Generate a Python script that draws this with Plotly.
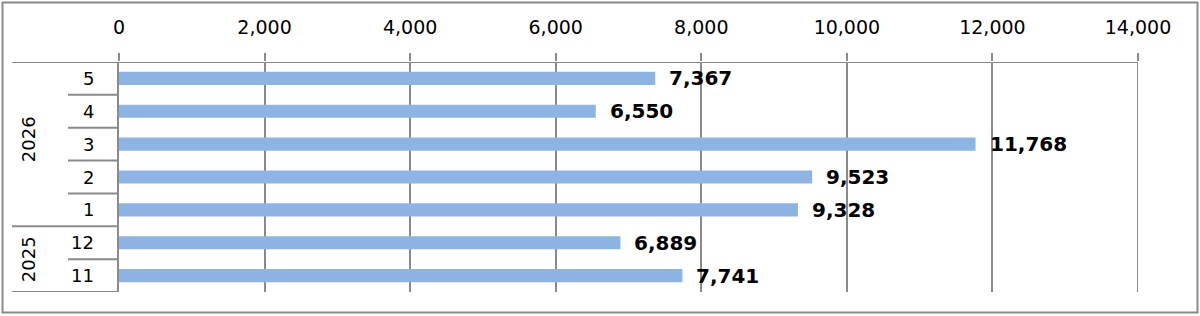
import plotly.graph_objects as go

years = ["2025", "2025", "2026", "2026", "2026", "2026", "2026"]
months = ["11", "12", "1", "2", "3", "4", "5"]
values = [7741, 6889, 9328, 9523, 11768, 6550, 7367]
x_ticks = [0, 2000, 4000, 6000, 8000, 10000, 12000, 14000]

cats = [f"{y}-{m}" for y, m in zip(years, months)]

W, H = 1200, 316
L, R, T, B = 119, 62, 62, 24
pw, ph = W - L - R, H - T - B
GREY = "#8a8a8a"
FONT = "DejaVu Sans"

def px_x(px):
    return (px - L) / pw

def px_y(py):
    return (H - B - py) / ph

fig = go.Figure()
fig.add_trace(go.Bar(
    x=values, y=cats, orientation="h",
    marker=dict(color="#8EB4E3", line=dict(width=0)),
    hoverinfo="skip",
))

annotations = []
# data labels
for c, v in zip(cats, values):
    annotations.append(dict(
        x=v, y=c, xref="x", yref="y", text=f"{v:,}", showarrow=False,
        xanchor="left", xshift=12,
        font=dict(family=FONT, size=20, color="black", weight="bold"),
    ))
# month labels
for c, m in zip(cats, months):
    annotations.append(dict(
        x=px_x(96), y=c, xref="paper", yref="y", text=m, showarrow=False,
        xanchor="right", font=dict(family=FONT, size=18, color="black"),
    ))
# year labels (rotated), centered over their group
shapes = []
groups = []
for i, y in enumerate(years):
    if groups and groups[-1][0] == y:
        groups[-1][2] = i
    else:
        groups.append([y, i, i])
for y, i0, i1 in groups:
    annotations.append(dict(
        x=px_x(28), y=(i0 + i1) / 2, xref="paper", yref="y", text=y,
        showarrow=False, textangle=-90, xanchor="center",
        yshift=5 if (i1 - i0) > 1 else 0,
        font=dict(family=FONT, size=18, color="black"),
    ))
# divider lines
line = dict(color=GREY, width=2)
for i in range(len(cats) + 1):
    yb = i - 0.5
    if i == 0 or i == len(cats) or years[i] != years[i - 1]:
        x0 = px_x(12)
    else:
        x0 = px_x(68)
    shapes.append(dict(type="line", xref="paper", yref="y", x0=x0, x1=0,
                       y0=yb, y1=yb, line=line))
# top axis line spanning to left edge
shapes.append(dict(type="line", xref="paper", yref="y", x0=px_x(12), x1=1,
                   y0=len(cats) - 0.5, y1=len(cats) - 0.5, line=line))
# right-most gridline at range end
shapes.append(dict(type="line", xref="x", yref="paper", x0=x_ticks[-1],
                   x1=x_ticks[-1], y0=0, y1=1, line=line))
# outer border
shapes.append(dict(type="rect", xref="paper", yref="paper",
                   x0=px_x(2.5), x1=px_x(1197.5), y0=px_y(312.5), y1=px_y(2.5),
                   line=dict(color=GREY, width=2)))

fig.update_layout(
    width=W, height=H,
    margin=dict(l=L, r=R, t=T, b=B, pad=0),
    paper_bgcolor="white", plot_bgcolor="white",
    showlegend=False,
    bargap=0.6,
    annotations=annotations,
    shapes=shapes,
    font=dict(family=FONT, size=18, color="black"),
    xaxis=dict(
        side="top", range=[0, 14000], tickvals=x_ticks,
        ticktext=[f"{t:,}" for t in x_ticks],
        showgrid=True, gridcolor=GREY, gridwidth=2,
        ticks="outside", ticklen=8, tickcolor=GREY, tickwidth=2,
        showline=False, zeroline=False,
        tickfont=dict(family=FONT, size=19, color="black"),
        ticklabelstandoff=11,
        fixedrange=True,
    ),
    yaxis=dict(
        type="category", categoryorder="array", categoryarray=cats,
        range=[-0.5, len(cats) - 0.5], showticklabels=False,
        showgrid=False, zeroline=False, showline=True, linecolor=GREY,
        linewidth=2, ticks="", fixedrange=True,
    ),
)

fig.write_html("out.html")
